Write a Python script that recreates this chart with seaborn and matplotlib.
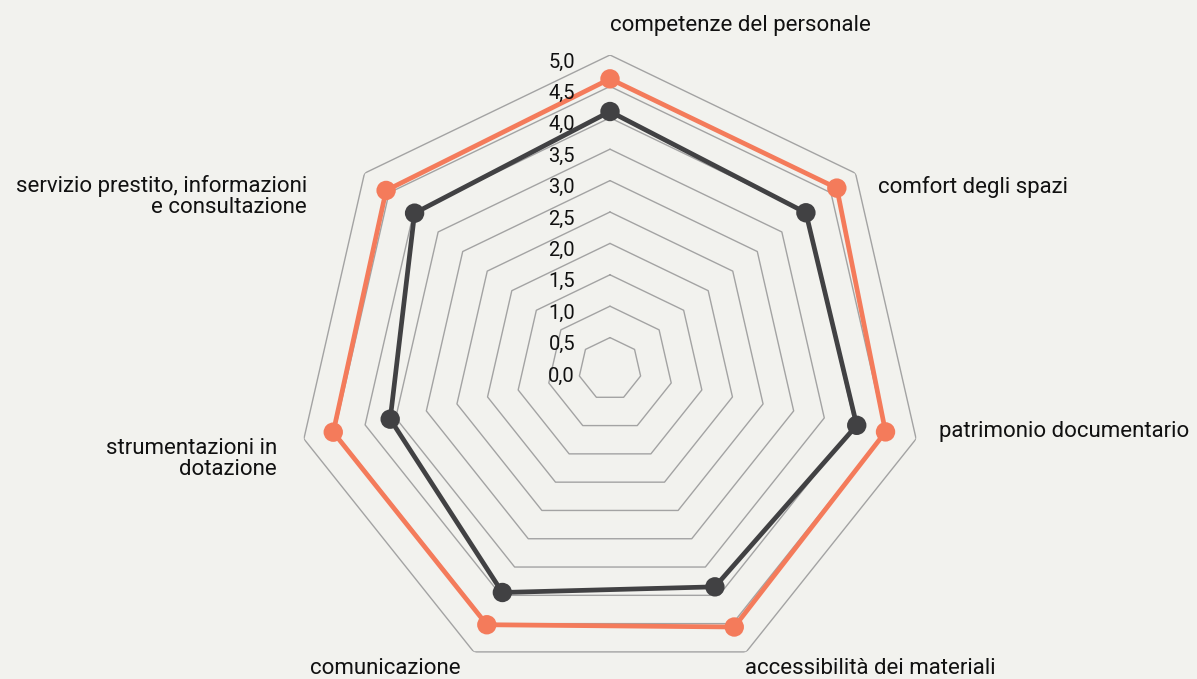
import numpy as np
import pandas as pd
import matplotlib
matplotlib.use("Agg")
import matplotlib.pyplot as plt
import matplotlib.transforms as mtransforms
import seaborn as sns

# ---- data ----
categories = [
    "competenze del personale",
    "comfort degli spazi",
    "patrimonio documentario",
    "accessibilità dei materiali",
    "comunicazione",
    "strumentazioni in\ndotazione",
    "servizio prestito, informazioni\ne consultazione",
]
series_names = ["serie 1", "serie 2"]
values_orange = [4.62, 4.62, 4.50, 4.56, 4.52, 4.52, 4.56]
values_dark = [4.10, 3.99, 4.03, 3.85, 3.95, 3.59, 3.98]
ticks = [0.0, 0.5, 1.0, 1.5, 2.0, 2.5, 3.0, 3.5, 4.0, 4.5, 5.0]
tick_labels = [f"{t:.1f}".replace(".", ",") for t in ticks]

COL_ORANGE = "#f47b5b"
COL_DARK = "#414143"
BG = "#f2f2ee"
GRID = "#a3a3a3"

sns.set_style("white")
plt.rcParams["font.family"] = ["Roboto", "DejaVu Sans"]

W, H = 1197, 679
fig = plt.figure(figsize=(W / 100, H / 100), dpi=100, facecolor=BG)

cx, cy, R = 610, 369, 314
ax = fig.add_axes([(cx - R) / W, (H - cy - R) / H, 2 * R / W, 2 * R / H],
                  projection="polar")
ax.set_facecolor("none")
ax.set_theta_zero_location("N")
ax.set_theta_direction(-1)

n = len(categories)
angles = np.linspace(0, 2 * np.pi, n, endpoint=False)
angles_closed = np.append(angles, angles[0])

# polygon grid
for t in ticks[1:]:
    ax.plot(angles_closed, [t] * (n + 1), color=GRID, lw=1.0, zorder=1)

rows = []
for name, vals in zip(series_names, [values_orange, values_dark]):
    for i, a in enumerate(angles_closed):
        rows.append({"serie": name, "theta": a, "value": vals[i % n], "idx": i})
df = pd.DataFrame(rows)
pal = {series_names[0]: COL_ORANGE, series_names[1]: COL_DARK}

sns.lineplot(data=df, x="theta", y="value", hue="serie", palette=pal,
             sort=False, estimator=None, units="serie", lw=3.4, legend=False,
             ax=ax, zorder=3)
sns.scatterplot(data=df[df["idx"] < n], x="theta", y="value", hue="serie",
                palette=pal, s=195, edgecolor="none", legend=False, ax=ax,
                zorder=4)

ax.set_ylim(0, 5)
ax.grid(False)
ax.spines["polar"].set_visible(False)
ax.set_xticks([])
ax.set_yticks([])
ax.set_xlabel("")
ax.set_ylabel("")

# radial tick labels
tr = mtransforms.offset_copy(ax.transData, fig=fig, x=-35, y=-7, units="dots")
for t, lab in zip(ticks, tick_labels):
    ax.text(0, t, lab, transform=tr, ha="right", va="center",
            fontsize=14.5, color="#111111", zorder=5)

# category labels (pixel positions: left/right edge, baseline of last line)
label_pos = [
    (610, 31, "left"),
    (878, 193, "left"),
    (939, 437, "left"),
    (745, 674, "left"),
    (461, 674, "right"),
    (277, 475, "right"),
    (307, 213, "right"),
]
for lab, (x, y, ha) in zip(categories, label_pos):
    fig.text(x / W, 1 - y / H, lab, ha=ha, va="baseline", ma=ha,
             fontsize=16, color="#111111", linespacing=1.0)

fig.savefig("out.png", dpi=100, facecolor=BG)
